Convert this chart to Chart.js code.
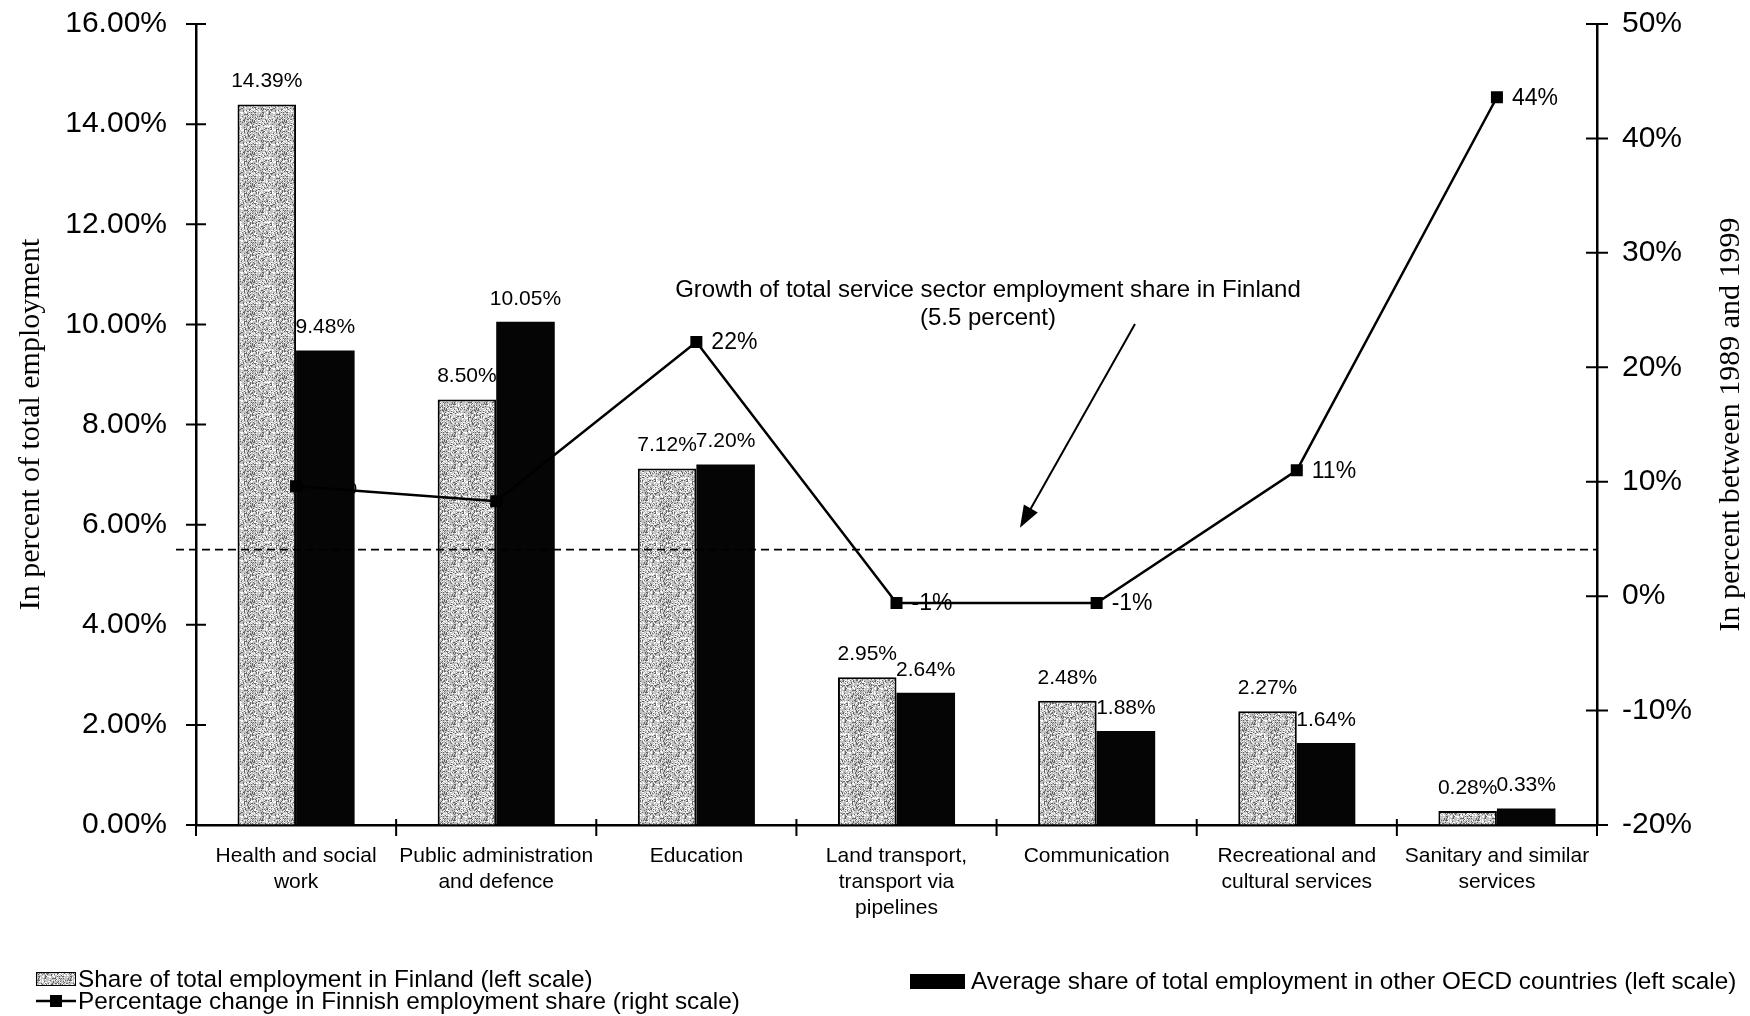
<!DOCTYPE html>
<html>
<head>
<meta charset="utf-8">
<title>Service sector employment, Finland vs OECD</title>
<script src="https://cdn.jsdelivr.net/npm/chart.js@4.4.0/dist/chart.umd.min.js"></script>
<style>
  html, body { margin: 0; padding: 0; background: #fff; }
  #wrap { width: 1750px; height: 1016px; }
</style>
</head>
<body>
<div id="wrap"><canvas id="chart" width="1750" height="1016"></canvas></div>
<script>
const CATEGORIES = [
  ['Health and social', 'work'],
  ['Public administration', 'and defence'],
  ['Education'],
  ['Land transport,', 'transport via', 'pipelines'],
  ['Communication'],
  ['Recreational and', 'cultural services'],
  ['Sanitary and similar', 'services']
];
const FINLAND_SHARE = [14.39, 8.50, 7.12, 2.95, 2.48, 2.27, 0.28];
const OECD_SHARE = [9.48, 10.05, 7.20, 2.64, 1.88, 1.64, 0.33];
const FINNISH_CHANGE = [9.6, 8.3, 22.2, -0.6, -0.6, 11, 43.6];
const SERVICE_GROWTH = 5.5;   // drawn as the dashed reference line
const LEFT_TICKS = [0, 2, 4, 6, 8, 10, 12, 14, 16];
const RIGHT_TICKS = [-20, -10, 0, 10, 20, 30, 40, 50];

const SANS = '"Liberation Sans", Arial, sans-serif';
const SERIF = '"Liberation Serif", "Times New Roman", serif';

// grey stippled fill for the Finland bars
function stipple() {
  const c = document.createElement('canvas');
  c.width = c.height = 32;
  const g = c.getContext('2d');
  g.fillStyle = '#c2c2c2';
  g.fillRect(0, 0, 32, 32);
  let s = 12345;
  for (let y = 0; y < 32; y++) {
    for (let x = 0; x < 32; x++) {
      s = (s * 16807) % 2147483647;
      const r = s % 100;
      if (r < 20) { g.fillStyle = '#666666'; g.fillRect(x, y, 1, 1); }
      else if (r < 44) { g.fillStyle = '#ffffff'; g.fillRect(x, y, 1, 1); }
    }
  }
  return document.createElement('canvas').getContext('2d').createPattern(c, 'repeat');
}
const greyFill = stipple();

// keep tick label overhang from pushing the plot area around
function noPadding(scale) {
  scale.paddingTop = 0;
  scale.paddingBottom = 0;
  scale.paddingLeft = 0;
  scale.paddingRight = 0;
}

const decorations = {
  id: 'decorations',
  beforeDatasetsDraw(chart) {
    const ctx = chart.ctx;
    ctx.save();
    ctx.fillStyle = '#000';
    ctx.textBaseline = 'middle';
    // bar value labels sit behind the bars
    ctx.textAlign = 'center';
    ctx.font = '21px ' + SANS;
    [0, 1].forEach(di => {
      chart.getDatasetMeta(di).data.forEach((bar, i) => {
        const v = chart.data.datasets[di].data[i];
        ctx.fillText(v.toFixed(2) + '%', bar.x, bar.y - 23);
      });
    });
    // line value labels
    ctx.textAlign = 'left';
    ctx.font = '23px ' + SANS;
    chart.getDatasetMeta(2).data.forEach((pt, i) => {
      ctx.fillText(Math.round(FINNISH_CHANGE[i]) + '%', pt.x + 15, pt.y + 1);
    });
    ctx.restore();
  },
  afterDatasetsDraw(chart) {
    const ctx = chart.ctx;
    const area = chart.chartArea;
    const yl = chart.scales.y, yr = chart.scales.y1;
    ctx.save();
    ctx.strokeStyle = '#000';
    ctx.fillStyle = '#000';

    // tick marks crossing the axes
    ctx.lineWidth = 2;
    ctx.beginPath();
    LEFT_TICKS.forEach(v => {
      const py = yl.getPixelForValue(v);
      ctx.moveTo(area.left - 10, py); ctx.lineTo(area.left + 10, py);
    });
    RIGHT_TICKS.forEach(v => {
      const py = yr.getPixelForValue(v);
      ctx.moveTo(area.right - 11, py); ctx.lineTo(area.right + 11, py);
    });
    const cw = (area.right - area.left) / CATEGORIES.length;
    for (let i = 0; i <= CATEGORIES.length; i++) {
      const px = area.left + i * cw;
      ctx.moveTo(px, area.bottom - 6); ctx.lineTo(px, area.bottom + 11);
    }
    ctx.stroke();

    // dashed line for total service sector growth
    const gy = yl.getPixelForValue(SERVICE_GROWTH);
    ctx.lineWidth = 1.6;
    ctx.setLineDash([8, 5]);
    ctx.beginPath();
    ctx.moveTo(area.left - 20, gy);
    ctx.lineTo(area.right, gy);
    ctx.stroke();
    ctx.setLineDash([]);

    // annotation and arrow
    ctx.font = '24px ' + SANS;
    ctx.textAlign = 'center';
    ctx.textBaseline = 'middle';
    ctx.fillText('Growth of total service sector employment share in Finland', 988, 290);
    ctx.fillText('(5.5 percent)', 988, 318);
    const ax0 = 1135, ay0 = 324, ax1 = 1020, ay1 = gy - 22;
    const ang = Math.atan2(ay1 - ay0, ax1 - ax0);
    ctx.lineWidth = 2;
    ctx.beginPath();
    ctx.moveTo(ax0, ay0);
    ctx.lineTo(ax1 - 18 * Math.cos(ang), ay1 - 18 * Math.sin(ang));
    ctx.stroke();
    ctx.beginPath();
    ctx.moveTo(ax1, ay1);
    ctx.lineTo(ax1 - 22 * Math.cos(ang) + 8 * Math.sin(ang), ay1 - 22 * Math.sin(ang) - 8 * Math.cos(ang));
    ctx.lineTo(ax1 - 22 * Math.cos(ang) - 8 * Math.sin(ang), ay1 - 22 * Math.sin(ang) + 8 * Math.cos(ang));
    ctx.closePath();
    ctx.fill();

    // right axis title, reading bottom to top
    ctx.save();
    ctx.translate(1731, (area.top + area.bottom) / 2);
    ctx.rotate(-Math.PI / 2);
    ctx.font = '30px ' + SERIF;
    ctx.fillText('In percent between 1989 and 1999', 0, 0);
    ctx.restore();

    // legend
    const ds = chart.data.datasets;
    ctx.font = '24.3px ' + SANS;
    ctx.textAlign = 'left';
    ctx.fillStyle = greyFill;
    ctx.fillRect(36, 972, 40, 14);
    ctx.lineWidth = 1;
    ctx.strokeRect(36.5, 972.5, 39, 13);
    ctx.fillStyle = '#000';
    ctx.fillText(ds[0].label, 78, 980);

    ctx.lineWidth = 2.5;
    ctx.beginPath();
    ctx.moveTo(36, 1001); ctx.lineTo(76, 1001);
    ctx.stroke();
    ctx.fillRect(50, 995, 12, 12);
    ctx.fillText(ds[2].label, 78, 1002);

    ctx.fillRect(910, 974, 55, 15);
    ctx.fillText(ds[1].label, 971, 982);
    ctx.restore();
  }
};

new Chart(document.getElementById('chart'), {
  type: 'bar',
  data: {
    labels: CATEGORIES,
    datasets: [
      {
        label: 'Share of total employment in Finland (left scale)',
        data: FINLAND_SHARE,
        yAxisID: 'y',
        backgroundColor: greyFill,
        borderColor: '#000',
        borderWidth: 2,
        categoryPercentage: 0.585,
        barPercentage: 1.0,
        order: 1
      },
      {
        label: 'Average share of total employment in other OECD countries (left scale)',
        data: OECD_SHARE,
        yAxisID: 'y',
        backgroundColor: '#050505',
        borderColor: '#000',
        borderWidth: 0,
        categoryPercentage: 0.585,
        barPercentage: 1.0,
        order: 1
      },
      {
        type: 'line',
        label: 'Percentage change in Finnish employment share (right scale)',
        data: FINNISH_CHANGE,
        yAxisID: 'y1',
        borderColor: '#000',
        borderWidth: 2.5,
        backgroundColor: '#000',
        pointStyle: 'rect',
        pointRadius: 8.5,
        pointBackgroundColor: '#000',
        pointBorderWidth: 0,
        tension: 0,
        fill: false,
        order: 0
      }
    ]
  },
  options: {
    responsive: false,
    animation: false,
    devicePixelRatio: 1,
    layout: { padding: { top: 24, left: 0, right: 0, bottom: 0 } },
    plugins: {
      legend: { display: false },
      tooltip: { enabled: false }
    },
    scales: {
      x: {
        offset: true,
        grid: { display: true, drawOnChartArea: false, drawTicks: false },
        border: { display: true, color: '#000', width: 2.5 },
        ticks: {
          color: '#000',
          font: { family: SANS, size: 21, lineHeight: 1.24 },
          padding: 18,
          maxRotation: 0,
          autoSkip: false
        },
        afterFit(scale) { noPadding(scale); scale.height = 191; }
      },
      y: {
        position: 'left',
        min: LEFT_TICKS[0],
        max: LEFT_TICKS[LEFT_TICKS.length - 1],
        grid: { display: true, drawOnChartArea: false, drawTicks: false },
        border: { display: true, color: '#000', width: 2.5 },
        ticks: {
          stepSize: 2,
          color: '#000',
          font: { family: SANS, size: 30 },
          padding: 29,
          callback: v => v.toFixed(2) + '%'
        },
        title: {
          display: true,
          text: 'In percent of total employment',
          color: '#000',
          font: { family: SERIF, size: 30 },
          padding: { top: 13, bottom: 0 }
        },
        afterFit(scale) { noPadding(scale); scale.width = 196; }
      },
      y1: {
        position: 'right',
        min: RIGHT_TICKS[0],
        max: RIGHT_TICKS[RIGHT_TICKS.length - 1],
        grid: { display: true, drawOnChartArea: false, drawTicks: false },
        border: { display: true, color: '#000', width: 2.5 },
        ticks: {
          stepSize: 10,
          color: '#000',
          font: { family: SANS, size: 30 },
          padding: 25,
          callback: v => v + '%'
        },
        afterFit(scale) { noPadding(scale); scale.width = 153; }
      }
    }
  },
  plugins: [decorations]
});
</script>
</body>
</html>
